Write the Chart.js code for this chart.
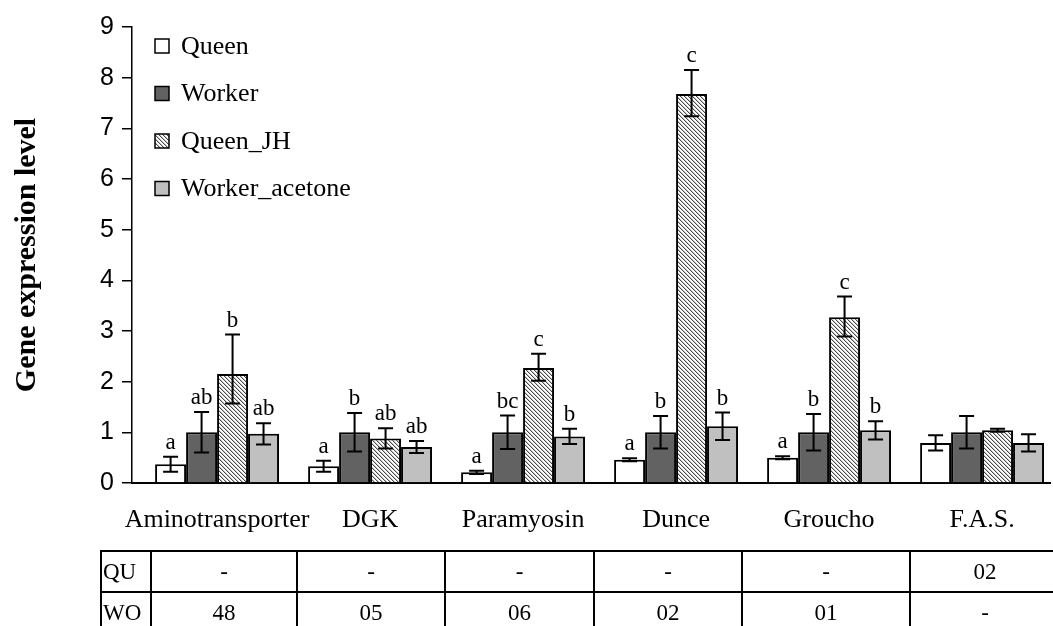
<!DOCTYPE html>
<html>
<head>
<meta charset="utf-8">
<script src="https://cdn.jsdelivr.net/npm/chart.js@4.4.1/dist/chart.umd.min.js"></script>
<style>
  html, body { margin: 0; padding: 0; background: #fff; overflow: hidden; }
  #wrap { position: relative; width: 1053px; height: 626px; }
  #c { position: absolute; left: 0; top: 0; }
  #tbl { position: absolute; left: 100px; top: 550px; border-collapse: collapse; table-layout: fixed;
         font-family: "Liberation Serif", "Times New Roman", serif; font-size: 23px; color: #000; }
  #tbl td { border: 2px solid #000; height: 39px; padding: 0; text-align: center; vertical-align: middle; }
  #tbl td.h { text-align: left; padding-left: 1px; border-right-width: 1px; }
</style>
</head>
<body>
<div id="wrap">
  <canvas id="c" width="1053" height="626"></canvas>
  <table id="tbl"></table>
</div>
<script>
// ---- data ----
const categories = ['Aminotransporter', 'DGK', 'Paramyosin', 'Dunce', 'Groucho', 'F.A.S.'];
const seriesNames = ['Queen', 'Worker', 'Queen_JH', 'Worker_acetone'];

const queen        = [0.37, 0.33, 0.21, 0.46, 0.50, 0.79];
const queenErr     = [0.15, 0.11, 0.03, 0.03, 0.03, 0.15];
const worker       = [1.00, 1.00, 1.00, 1.00, 1.00, 1.00];
const workerErr    = [0.40, 0.38, 0.33, 0.32, 0.36, 0.32];
const queenJH      = [2.15, 0.88, 2.27, 7.68, 3.27, 1.04];
const queenJHErrUp = [0.78, 0.20, 0.28, 0.47, 0.41, 0.03];
const queenJHErrDn = [0.58, 0.20, 0.25, 0.44, 0.38, 0.03];
const workerAc     = [0.97, 0.71, 0.92, 1.12, 1.04, 0.79];
const workerAcErr  = [0.21, 0.12, 0.15, 0.27, 0.18, 0.17];

const queenLetters    = ['a', 'a', 'a', 'a', 'a', ''];
const workerLetters   = ['ab', 'b', 'bc', 'b', 'b', ''];
const queenJHLetters  = ['b', 'ab', 'c', 'c', 'c', ''];
const workerAcLetters = ['ab', 'ab', 'b', 'b', 'b', ''];

const yTicks = [0, 1, 2, 3, 4, 5, 6, 7, 8, 9];

const tableRowLabels = ['QU', 'WO'];
const rowQU = ['-', '-', '-', '-', '-', '02'];
const rowWO = ['48', '05', '06', '02', '01', '-'];

// ---- table ----
const colWidths = [50, 146, 148, 149, 148, 168, 150];
(function buildTable() {
  const t = document.getElementById('tbl');
  const cg = document.createElement('colgroup');
  colWidths.forEach(w => { const c = document.createElement('col'); c.style.width = w + 'px'; cg.appendChild(c); });
  t.appendChild(cg);
  [rowQU, rowWO].forEach((row, r) => {
    const tr = document.createElement('tr');
    const th = document.createElement('td'); th.className = 'h'; th.textContent = tableRowLabels[r]; tr.appendChild(th);
    row.forEach(v => { const td = document.createElement('td'); td.textContent = v; tr.appendChild(td); });
    t.appendChild(tr);
  });
  t.style.width = colWidths.reduce((a, b) => a + b, 0) + 'px';
})();

// ---- hatch pattern ----
function makeHatch() {
  const c = document.createElement('canvas');
  c.width = 4; c.height = 4;
  const x = c.getContext('2d');
  x.fillStyle = '#ffffff'; x.fillRect(0, 0, 4, 4);
  for (let i = 0; i < 4; i++) {
    x.fillStyle = '#4a4a4a'; x.fillRect(i, i, 1, 1);
    x.fillStyle = '#c4c4c4'; x.fillRect((i + 1) % 4, i, 1, 1);
  }
  return x.createPattern(c, 'repeat');
}
const hatch = makeHatch();

const serif = '"Liberation Serif", "Times New Roman", serif';
const sans = '"Liberation Sans", Arial, sans-serif';

// ---- plugins ----
const errorBarPlugin = {
  id: 'errorBars',
  afterDatasetsDraw(chart) {
    const ctx = chart.ctx;
    const ys = chart.scales.y;
    ctx.save();
    chart.data.datasets.forEach((ds, di) => {
      const meta = chart.getDatasetMeta(di);
      meta.data.forEach((bar, i) => {
        const v = ds.data[i];
        const up = ds.errUp[i], dn = ds.errDown[i];
        const yTop = ys.getPixelForValue(v + up);
        const yBot = ys.getPixelForValue(v - dn);
        const x = bar.x;
        ctx.strokeStyle = '#000';
        ctx.lineWidth = 2;
        ctx.beginPath();
        ctx.moveTo(x, yTop); ctx.lineTo(x, yBot);
        ctx.moveTo(x - 7.5, yTop); ctx.lineTo(x + 7.5, yTop);
        ctx.moveTo(x - 7.5, yBot); ctx.lineTo(x + 7.5, yBot);
        ctx.stroke();
        const lab = ds.letters[i];
        if (lab) {
          ctx.fillStyle = '#000';
          ctx.font = '23px ' + serif;
          ctx.textAlign = 'center';
          ctx.textBaseline = 'alphabetic';
          ctx.fillText(lab, x, yTop - 8);
        }
      });
    });
    ctx.restore();
  }
};

const legendPlugin = {
  id: 'customLegend',
  afterDraw(chart) {
    const ctx = chart.ctx;
    ctx.save();
    chart.data.datasets.forEach((ds, i) => {
      const cy = 46 + i * 47.5;
      ctx.fillStyle = ds.backgroundColor;
      ctx.fillRect(155, cy - 7, 14, 14);
      ctx.strokeStyle = '#000';
      ctx.lineWidth = 1.5;
      ctx.strokeRect(155, cy - 7, 14, 14);
      ctx.fillStyle = '#000';
      ctx.font = '26px ' + serif;
      ctx.textAlign = 'left';
      ctx.textBaseline = 'middle';
      ctx.fillText(ds.label, 181, cy + 1);
    });
    ctx.restore();
  }
};

// ---- chart ----
const mk = (label, data, color, up, dn, letters) => ({
  label, data, backgroundColor: color, borderColor: '#000', borderWidth: 2,
  errUp: up, errDown: dn, letters,
  categoryPercentage: 0.81, barPercentage: 1.0
});

// the first category sits a little further from the value axis than half a category
const categoryStartValue = -0.556;

new Chart(document.getElementById('c'), {
  type: 'bar',
  data: {
    labels: categories,
    datasets: [
      mk(seriesNames[0], queen, '#ffffff', queenErr, queenErr, queenLetters),
      mk(seriesNames[1], worker, '#626262', workerErr, workerErr, workerLetters),
      mk(seriesNames[2], queenJH, hatch, queenJHErrUp, queenJHErrDn, queenJHLetters),
      mk(seriesNames[3], workerAc, '#c0c0c0', workerAcErr, workerAcErr, workerAcLetters)
    ]
  },
  options: {
    responsive: false,
    animation: false,
    devicePixelRatio: 1,
    layout: { padding: { top: 27, right: 3, left: 0, bottom: 0 } },
    plugins: { legend: { display: false }, tooltip: { enabled: false } },
    scales: {
      x: {
        grid: { display: true, drawOnChartArea: false, drawTicks: false, color: 'rgba(0,0,0,0)' },
        border: { display: true, color: '#000', width: 2 },
        ticks: { color: '#000', font: { family: serif, size: 26 }, padding: 22, maxRotation: 0, autoSkip: false },
        afterBuildTicks(s) { s._startValue = categoryStartValue; },
        afterFit(s) { s.height = 143; }
      },
      y: {
        min: 0, max: 9,
        afterBuildTicks(s) { s.ticks = yTicks.map(v => ({ value: v })); },
        grid: { drawOnChartArea: false, drawTicks: true, tickLength: 10, color: '#000', lineWidth: 1.5 },
        border: { display: true, color: '#000', width: 1.5 },
        ticks: { color: '#000', font: { family: sans, size: 25 }, padding: 8 },
        title: { display: true, text: 'Gene expression level', color: '#000',
                 font: { family: serif, size: 30, weight: 'bold' }, padding: { top: 9, bottom: 0 } },
        afterFit(s) { s.width = 132; }
      }
    }
  },
  plugins: [errorBarPlugin, legendPlugin]
});
</script>
</body>
</html>
